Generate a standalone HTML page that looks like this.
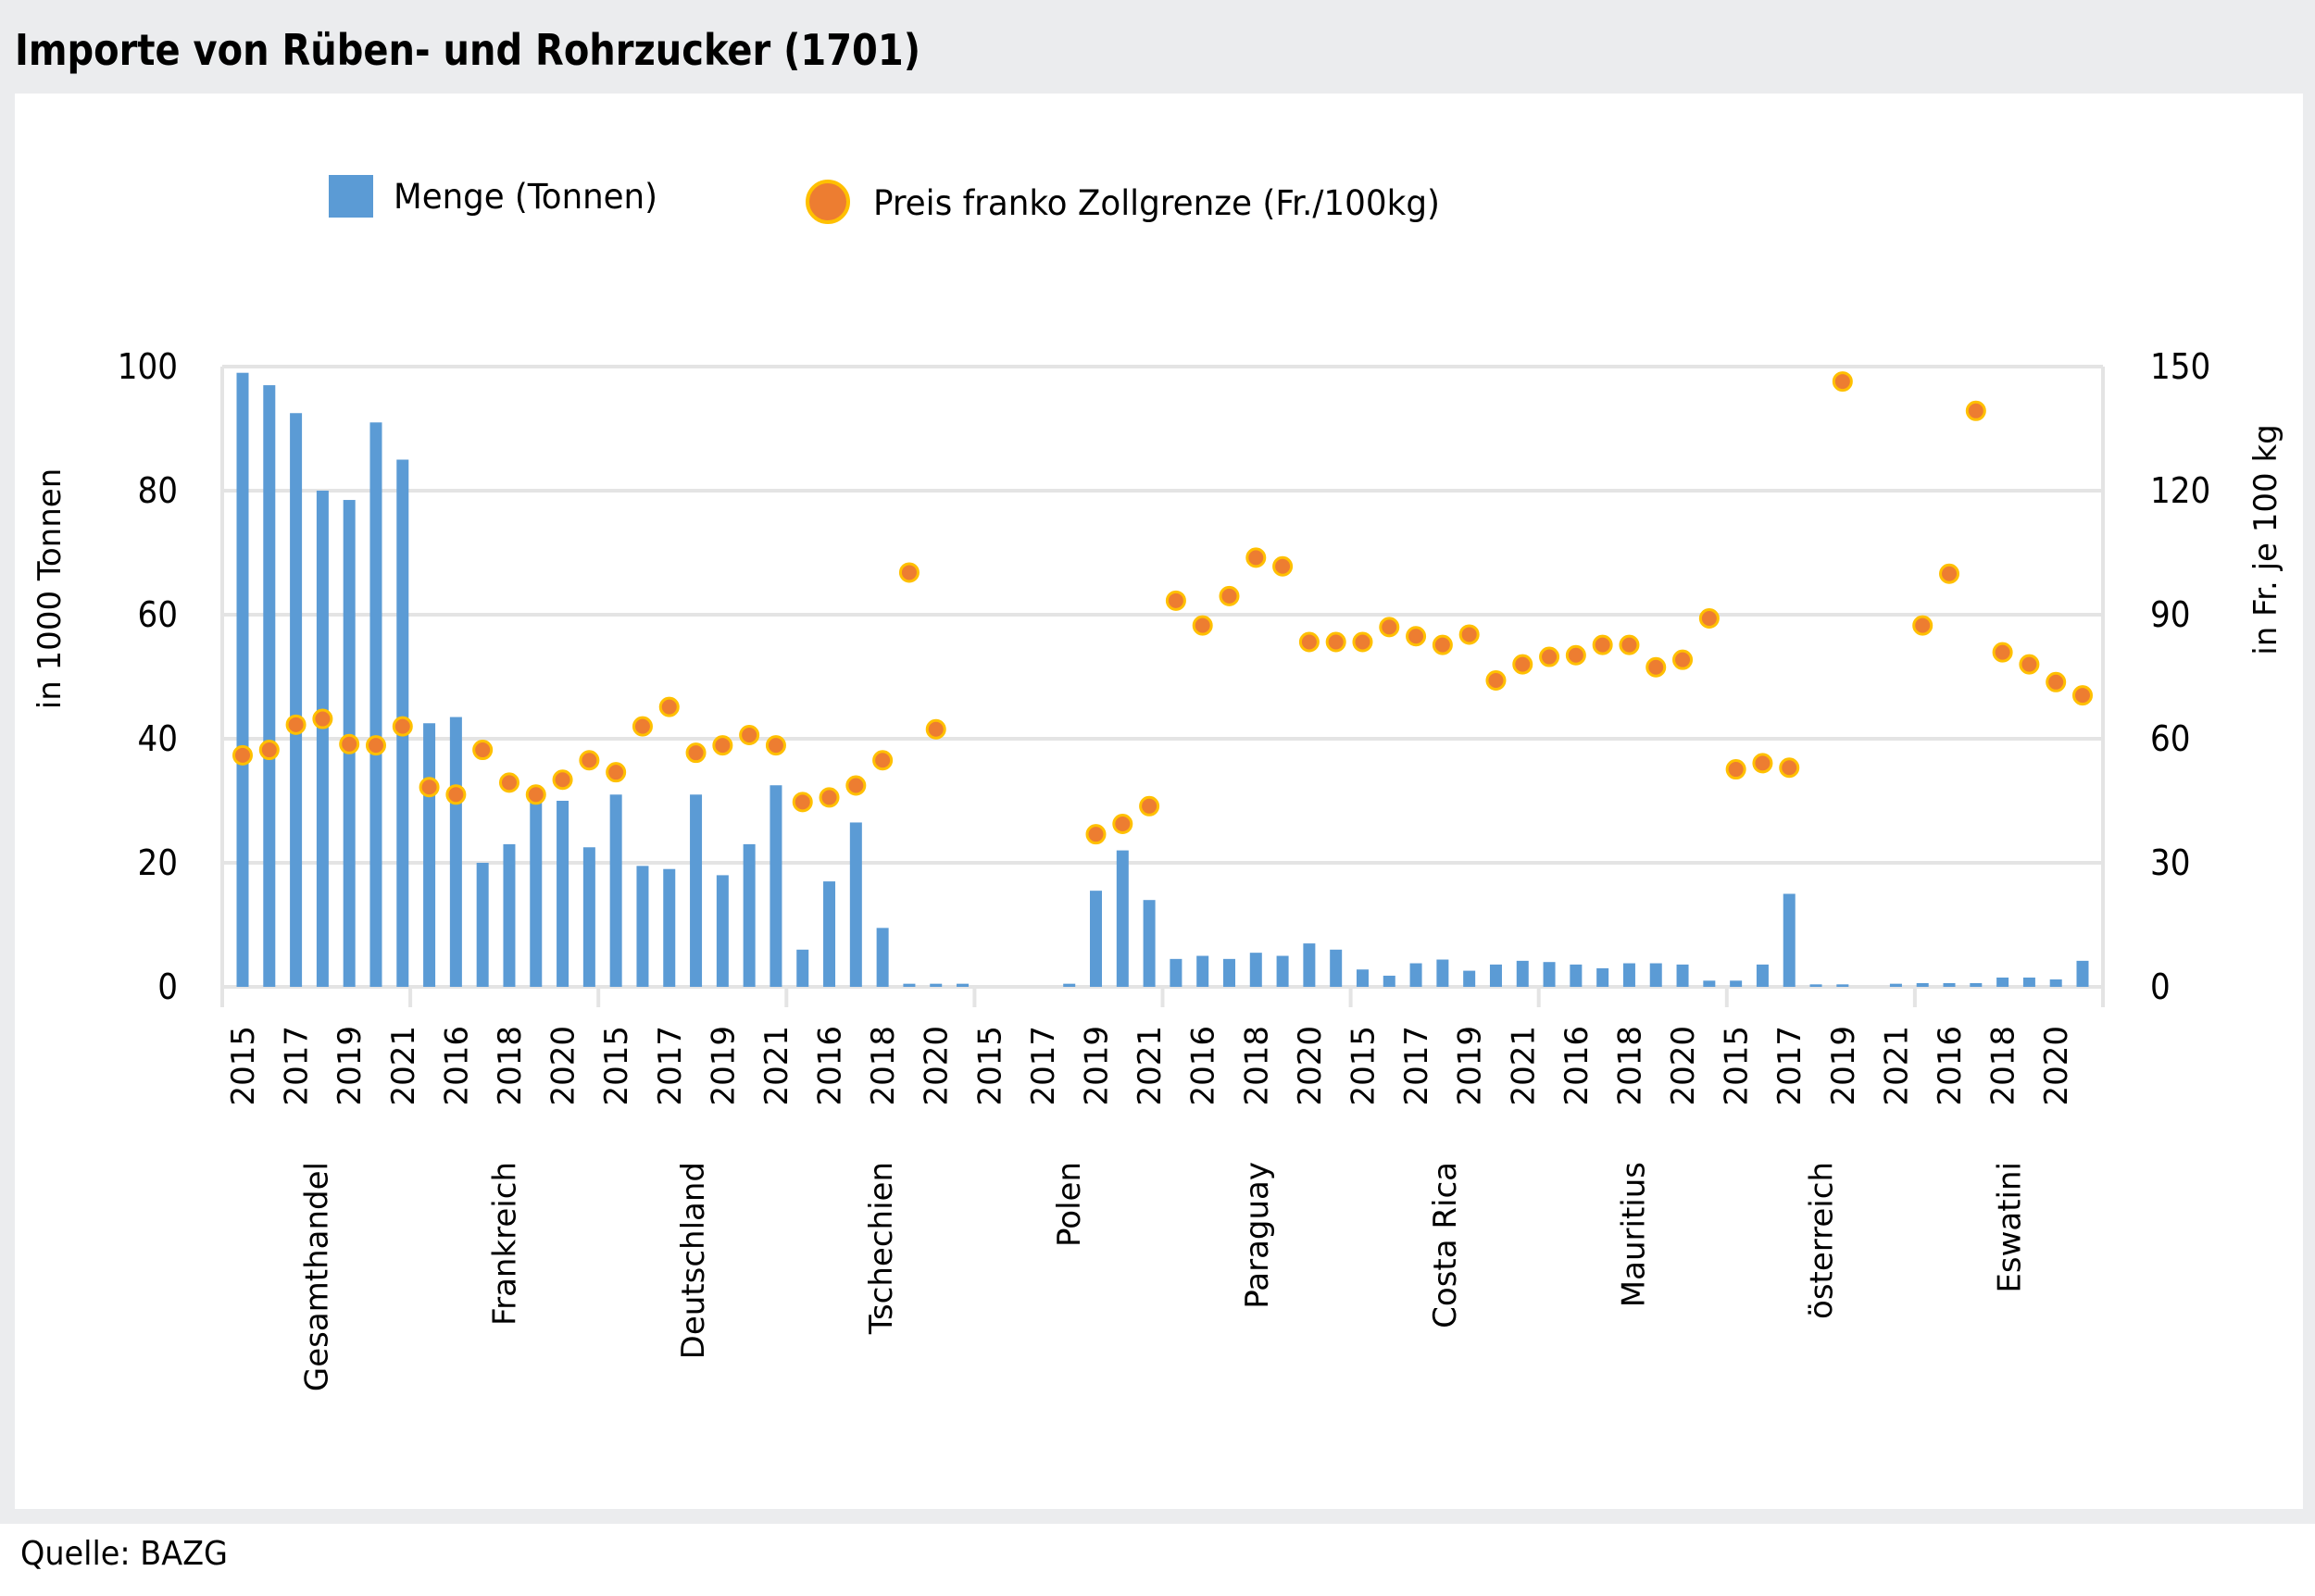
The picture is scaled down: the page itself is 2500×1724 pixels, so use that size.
<!DOCTYPE html>
<html><head><meta charset="utf-8"><style>
html,body{margin:0;padding:0;background:#fff;}
svg{display:block;}
</style></head><body>
<svg id="chart" width="2500" height="1724" viewBox="0 0 2500 1724" xmlns="http://www.w3.org/2000/svg">
<rect x="0" y="0" width="2500" height="1646" fill="#ebecee"/>
<rect x="16" y="101" width="2471" height="1529" fill="#ffffff"/>
<text x="16" y="70" font-family="'DejaVu Sans Condensed','Liberation Sans',sans-serif" font-weight="bold" font-size="46" fill="#000" textLength="978" lengthAdjust="spacingAndGlyphs">Importe von Rüben- und Rohrzucker (1701)</text>
<text x="22" y="1690" font-family="'DejaVu Sans Condensed','Liberation Sans',sans-serif" font-size="36" fill="#000" textLength="224" lengthAdjust="spacingAndGlyphs">Quelle: BAZG</text>
<g>
<rect x="355" y="189" width="48" height="46" fill="#5b9bd5"/>
<text x="425" y="225" font-family="'DejaVu Sans Condensed','Liberation Sans',sans-serif" font-size="37" fill="#000" textLength="285" lengthAdjust="spacingAndGlyphs">Menge (Tonnen)</text>
<circle cx="894" cy="218" r="22" fill="#ed7d31" stroke="#ffc000" stroke-width="4"/>
<text x="943" y="232" font-family="'DejaVu Sans Condensed','Liberation Sans',sans-serif" font-size="37" fill="#000" textLength="612" lengthAdjust="spacingAndGlyphs">Preis franko Zollgrenze (Fr./100kg)</text>
</g>
<g id="grid"></g>
<g id="bars"></g>
<g id="dots"></g>
<g id="axes"></g>
<text transform="translate(65,636) rotate(-90)" text-anchor="middle" font-family="'DejaVu Sans','Liberation Sans',sans-serif" font-size="34" fill="#000">in 1000 Tonnen</text>
<text transform="translate(2458,583) rotate(-90)" text-anchor="middle" font-family="'DejaVu Sans','Liberation Sans',sans-serif" font-size="34" fill="#000">in Fr. je 100 kg</text>
</svg>
<script>
const countries = ["Gesamthandel","Frankreich","Deutschland","Tschechien","Polen","Paraguay","Costa Rica","Mauritius","österreich","Eswatini"];
const years = [2015,2016,2017,2018,2019,2020,2021];
const leftTicks = [0,20,40,60,80,100];
const rightTicks = [0,30,60,90,120,150];
const menge = [
 99,97,92.5,80,78.5,91,85,
 42.5,43.5,20,23,30,30,22.5,
 31,19.5,19,31,18,23,32.5,
 6,17,26.5,9.5,0.5,0.5,0.5,
 0,0,0,0.5,15.5,22,14,
 4.5,5,4.5,5.5,5,7,6,
 2.8,1.8,3.8,4.4,2.6,3.6,4.2,
 4,3.6,3,3.8,3.8,3.6,1,
 1,3.6,15,0.4,0.4,0,0.5,
 0.6,0.6,0.6,1.5,1.5,1.2,4.2
];
const preis = [
 56,57.3,63.4,64.8,58.7,58.4,63,
 48.3,46.5,57.3,49.4,46.5,50.1,54.8,
 51.9,63,67.7,56.6,58.4,60.9,58.4,
 44.7,45.8,48.7,54.8,100.2,62.3,null,
 null,null,null,null,36.9,39.4,43.7,
 93.4,87.4,94.5,103.8,101.7,83.4,83.4,
 83.4,87,84.8,82.7,85.2,74.1,78,
 79.8,80.2,82.7,82.7,77.3,79.1,89.1,
 52.6,54.1,53,null,146.4,null,null,
 87.4,99.9,139.3,80.9,78,73.7,70.5
];
const NS="http://www.w3.org/2000/svg";
const X0=240, X1=2271, Y0=1066, YT=396;
const nSlots = countries.length*years.length;
const groupW=(X1-X0)/countries.length;
const FIRST=262, LAST=2249;
const slotW=(LAST-FIRST)/(nSlots-1);
const yL=v=>Y0-(v/100)*(Y0-YT);
const yR=v=>Y0-(v/150)*(Y0-YT);
const xS=i=>FIRST+i*slotW;
function mk(tag,attrs,parent){const e=document.createElementNS(NS,tag);for(const k in attrs)e.setAttribute(k,attrs[k]);parent.appendChild(e);return e;}
const grid=document.getElementById('grid'),bars=document.getElementById('bars'),dots=document.getElementById('dots'),axes=document.getElementById('axes');
const FONT="'DejaVu Sans Condensed','Liberation Sans',sans-serif";
leftTicks.forEach((t,k)=>{
 const l=mk('line',{x1:X0,x2:X1,y1:yL(t),y2:yL(t),stroke:'#e4e4e4','stroke-width':4},grid);
 
 
 const tx=mk('text',{x:192,y:yL(t)+13,'text-anchor':'end','font-family':FONT,'font-size':38,fill:'#000'},axes);
 tx.textContent=t;
 
 
});
rightTicks.forEach(t=>{
 const tx=mk('text',{x:2322,y:yR(t)+13,'font-family':FONT,'font-size':38,fill:'#000'},axes);
 tx.textContent=t;
 
 
});
const vb=mk('line',{x1:X0,x2:X0,y1:YT,y2:Y0,stroke:'#e4e4e4','stroke-width':4},grid);


const rb=mk('line',{x1:X1,x2:X1,y1:YT,y2:Y0,stroke:'#e4e4e4','stroke-width':4},grid);


menge.forEach((v,i)=>{
 if(!v)return;
 const h=Y0-yL(v);
 const r=mk('rect',{x:xS(i)-6.5,y:yL(v),width:13,height:Math.max(h,1.5),fill:'#5b9bd5'},bars);
 
 
});
preis.forEach((v,i)=>{
 if(v==null)return;
 const c=mk('circle',{cx:xS(i),cy:yR(v),r:9.5,fill:'#ed7d31',stroke:'#ffc000','stroke-width':3},dots);
 
 
});
for(let g=0;g<=countries.length;g++){
 const x=X0+g*groupW;
 const t=mk('line',{x1:x,x2:x,y1:Y0,y2:1088,stroke:'#e4e4e4','stroke-width':4},axes);
 
 
}
for(let i=0;i<nSlots;i+=2){
 const yr=years[i%years.length];
 const tx=mk('text',{transform:`translate(${xS(i)+12},1108) rotate(-90)`,'text-anchor':'end','font-family':"'DejaVu Sans','Liberation Sans',sans-serif",'font-size':34,fill:'#000'},axes);
 tx.textContent=yr;
 
 
}
countries.forEach((c,g)=>{
 const cx=X0+(g+0.5)*groupW;
 const tx=mk('text',{transform:`translate(${cx+12},1255) rotate(-90)`,'text-anchor':'end','font-family':"'DejaVu Sans','Liberation Sans',sans-serif",'font-size':34,fill:'#000'},axes);
 tx.textContent=c;
 
 
});
</script>
</body></html>
